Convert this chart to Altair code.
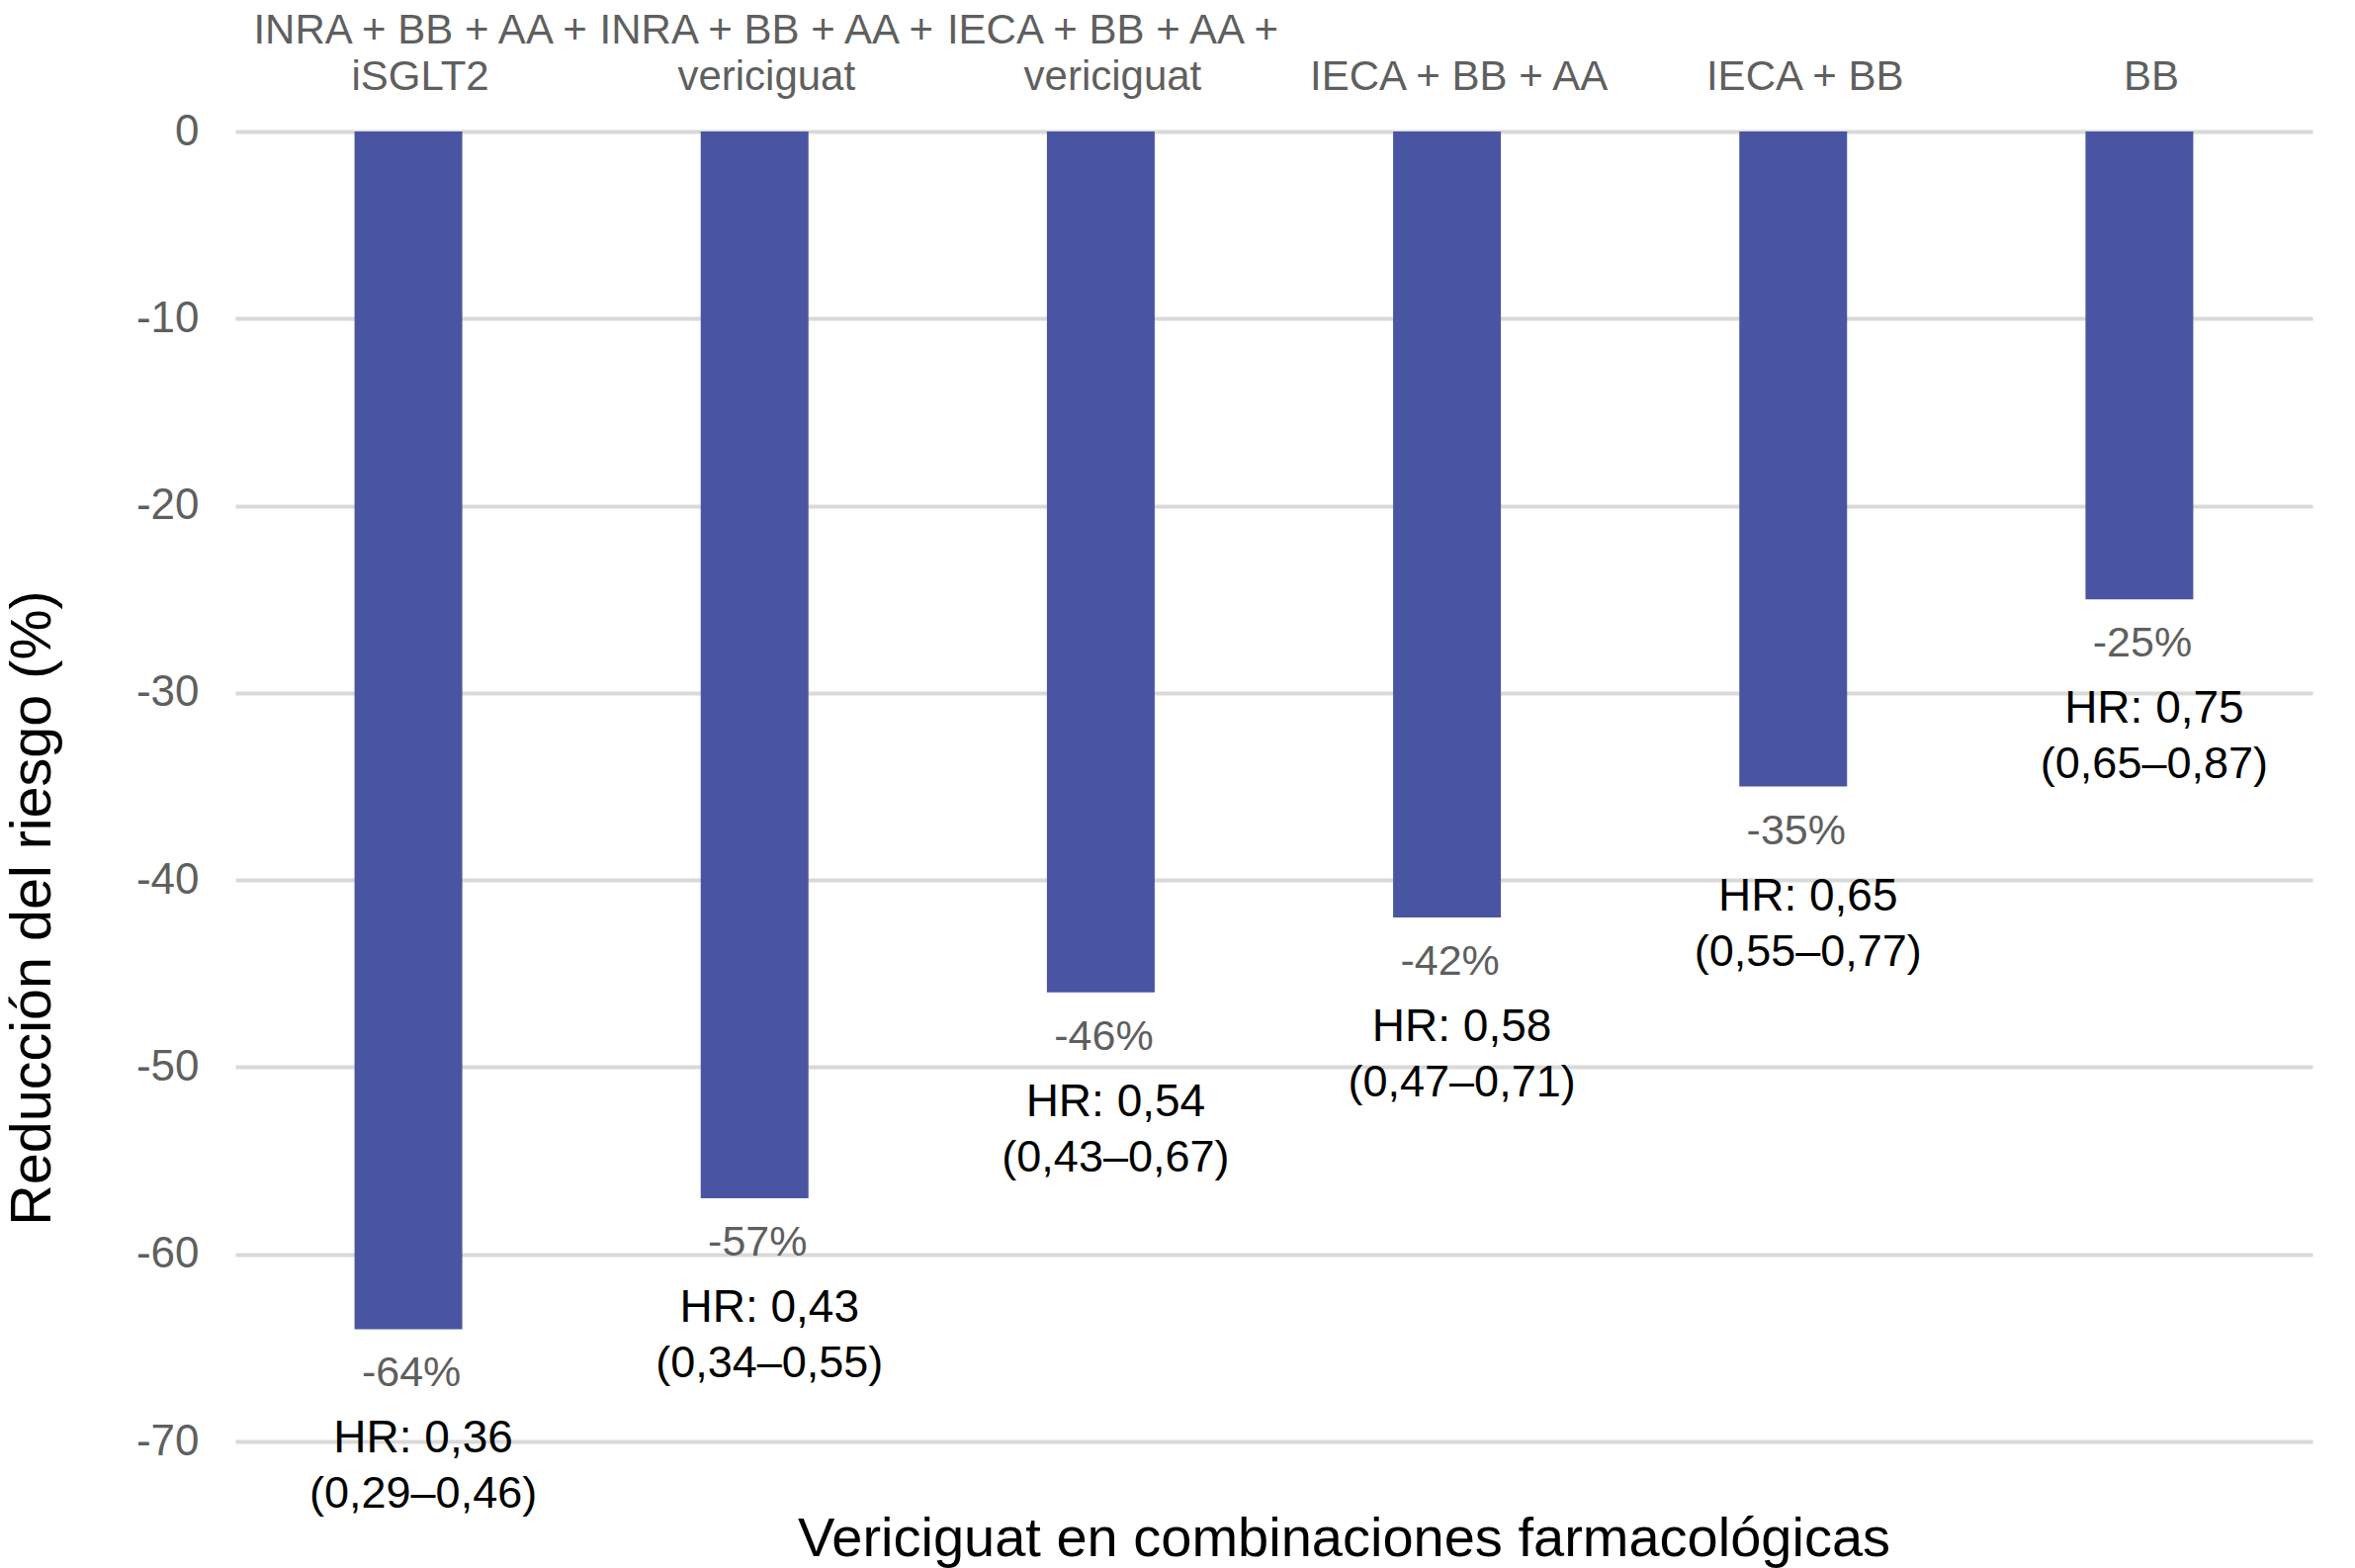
import altair as alt
import pandas as pd

# values
# (single-line labels get an empty first line so every label sits on the same two rows)
combos = [
    "INRA + BB + AA +\niSGLT2",
    "INRA + BB + AA +\nvericiguat",
    "IECA + BB + AA +\nvericiguat",
    "\nIECA + BB + AA",
    "\nIECA + BB",
    "\nBB",
]
reduction = [-64, -57, -46, -42, -35, -25]
pct_labels = ["-64%", "-57%", "-46%", "-42%", "-35%", "-25%"]
hr_labels = ["HR: 0,36", "HR: 0,43", "HR: 0,54", "HR: 0,58", "HR: 0,65", "HR: 0,75"]
ci_labels = ["(0,29–0,46)", "(0,34–0,55)", "(0,43–0,67)", "(0,47–0,71)", "(0,55–0,77)", "(0,65–0,87)"]
y_ticks = [0, -10, -20, -30, -40, -50, -60, -70]

source = pd.DataFrame({
    "combo": combos,
    "reduction": reduction,
    "pct": pct_labels,
    "hr": hr_labels,
    "ci": ci_labels,
})

FONT = "Liberation Sans"
GREY = "#5f5f5f"

x_enc = alt.X(
    "combo:N",
    sort=combos,
    scale=alt.Scale(paddingInner=0, paddingOuter=0),
    axis=alt.Axis(
        orient="top",
        title=None,
        labelExpr="split(datum.label, '\\n')",
        labelAngle=0,
        labelFont=FONT,
        labelFontSize=42,
        labelLineHeight=47,
        labelColor=GREY,
        labelPadding=81,
        labelBaseline="bottom",
        labelOffset=12,
        labelLimit=1000,
        ticks=False,
        tickSize=0,
        domain=False,
        grid=False,
    ),
)

y_enc = alt.Y(
    "reduction:Q",
    scale=alt.Scale(domain=[-70, 0], nice=False),
    axis=alt.Axis(
        values=y_ticks,
        labelExpr="'' + datum.value",
        labelFont=FONT,
        labelFontSize=44,
        labelColor=GREY,
        labelPadding=37,
        ticks=False,
        tickSize=0,
        domain=False,
        grid=True,
        gridColor="#d9d9d9",
        gridWidth=4,
        title="Reducción del riesgo (%)",
        titleFont=FONT,
        titleFontSize=57.5,
        titleFontWeight="normal",
        titleColor="black",
        titleAngle=270,
        titleAlign="center",
        titleBaseline="alphabetic",
        titleX=-188,
        titleY=785,
    ),
)

base = alt.Chart(source).encode(x=x_enc, y=y_enc)

bars = base.mark_bar(size=109, color="#4955a2")

# labels under each bar end
pct_text = base.mark_text(
    font=FONT, fontSize=43, color=GREY, baseline="middle", dy=45, dx=3
).encode(text="pct:N")
hr_text = base.mark_text(
    font=FONT, fontSize=46, color="black", baseline="middle", dy=111, dx=15
).encode(text="hr:N")
ci_text = base.mark_text(
    font=FONT, fontSize=45, color="black", baseline="middle", dy=167, dx=15
).encode(text="ci:N")

x_title = alt.TitleParams(
    "Vericiguat en combinaciones farmacológicas",
    orient="bottom",
    anchor="middle",
    frame="group",
    font=FONT,
    fontSize=56,
    fontWeight="normal",
    color="black",
    baseline="alphabetic",
    offset=40,
    dx=71,
)

chart = alt.layer(bars, pct_text, hr_text, ci_text).properties(
    width=2101,
    height=1325,
    title=x_title,
    autosize=alt.AutoSizeParams(type="none"),
    padding={"left": 230, "top": 125, "right": 35, "bottom": 128},
).configure_view(strokeWidth=0)

chart.save("out.html", embed_options={"renderer": "svg", "actions": False})
